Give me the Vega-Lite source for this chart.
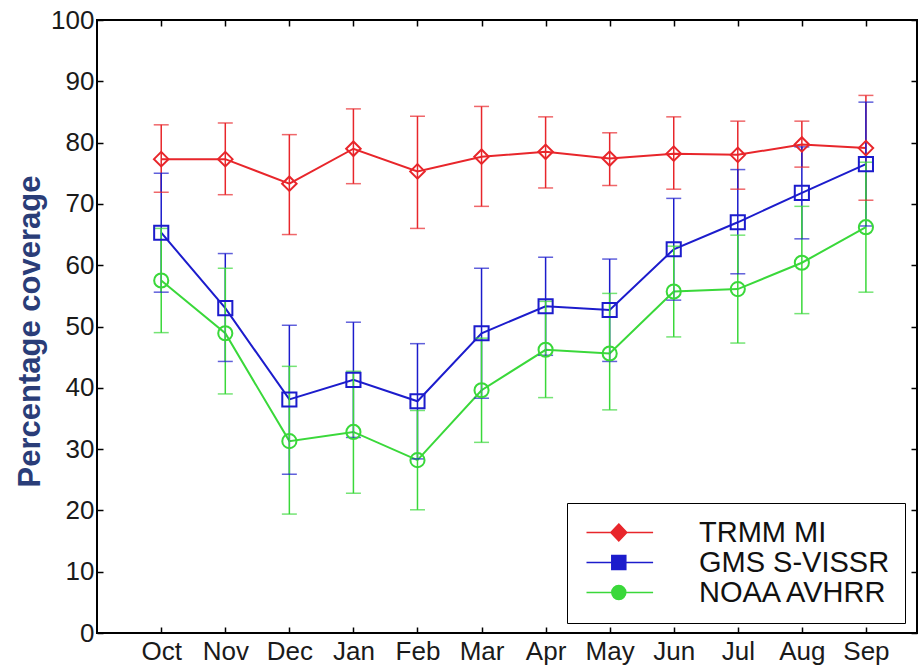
{
  "$schema": "https://vega.github.io/schema/vega-lite/v6.json",
  "autosize": {"type": "none"},
  "padding": {"left": 97, "top": 20, "right": 7, "bottom": 38},
  "width": 820,
  "height": 613,
  "background": "white",
  "config": {
    "view": {"stroke": "black", "strokeWidth": 2},
    "font": "Liberation Sans",
    "axis": {
      "grid": false,
      "domain": false,
      "tickColor": "black",
      "tickWidth": 1.5,
      "tickSize": -6,
      "labelFont": "Liberation Sans",
      "labelFontSize": 26,
      "labelColor": "#1a1a1a"
    },
    "legend": {
      "orient": "none",
      "legendX": 470,
      "legendY": 483,
      "strokeColor": "black",
      "fillColor": "white",
      "padding": 15,
      "labelFont": "Liberation Sans",
      "labelFontSize": 29,
      "labelColor": "#111111",
      "labelLimit": 400,
      "labelOffset": 88,
      "symbolSize": 400,
      "symbolOpacity": 1,
      "symbolStrokeWidth": 1.5,
      "rowPadding": 0
    }
  },
  "data": {
    "values": [
      {"month": "Oct", "series": "TRMM MI", "mean": 77.3, "lo": 71.9, "hi": 82.9},
      {"month": "Nov", "series": "TRMM MI", "mean": 77.3, "lo": 71.5, "hi": 83.2},
      {"month": "Dec", "series": "TRMM MI", "mean": 73.3, "lo": 65.0, "hi": 81.3},
      {"month": "Jan", "series": "TRMM MI", "mean": 79.0, "lo": 73.3, "hi": 85.5},
      {"month": "Feb", "series": "TRMM MI", "mean": 75.3, "lo": 66.0, "hi": 84.3},
      {"month": "Mar", "series": "TRMM MI", "mean": 77.7, "lo": 69.6, "hi": 85.9},
      {"month": "Apr", "series": "TRMM MI", "mean": 78.5, "lo": 72.6, "hi": 84.2},
      {"month": "May", "series": "TRMM MI", "mean": 77.4, "lo": 73.0, "hi": 81.6},
      {"month": "Jun", "series": "TRMM MI", "mean": 78.2, "lo": 72.4, "hi": 84.2},
      {"month": "Jul", "series": "TRMM MI", "mean": 78.0, "lo": 72.4, "hi": 83.5},
      {"month": "Aug", "series": "TRMM MI", "mean": 79.7, "lo": 76.0, "hi": 83.5},
      {"month": "Sep", "series": "TRMM MI", "mean": 79.1, "lo": 70.6, "hi": 87.7},
      {"month": "Oct", "series": "GMS S-VISSR", "mean": 65.3, "lo": 55.6, "hi": 75.0},
      {"month": "Nov", "series": "GMS S-VISSR", "mean": 53.0, "lo": 44.3, "hi": 61.9},
      {"month": "Dec", "series": "GMS S-VISSR", "mean": 38.1, "lo": 25.9, "hi": 50.2},
      {"month": "Jan", "series": "GMS S-VISSR", "mean": 41.3, "lo": 31.9, "hi": 50.7},
      {"month": "Feb", "series": "GMS S-VISSR", "mean": 37.8, "lo": 28.4, "hi": 47.2},
      {"month": "Mar", "series": "GMS S-VISSR", "mean": 48.9, "lo": 38.3, "hi": 59.5},
      {"month": "Apr", "series": "GMS S-VISSR", "mean": 53.3, "lo": 45.3, "hi": 61.3},
      {"month": "May", "series": "GMS S-VISSR", "mean": 52.7, "lo": 44.3, "hi": 61.0},
      {"month": "Jun", "series": "GMS S-VISSR", "mean": 62.6, "lo": 54.3, "hi": 70.9},
      {"month": "Jul", "series": "GMS S-VISSR", "mean": 67.0, "lo": 58.6, "hi": 75.6},
      {"month": "Aug", "series": "GMS S-VISSR", "mean": 71.8, "lo": 64.3, "hi": 79.3},
      {"month": "Sep", "series": "GMS S-VISSR", "mean": 76.5, "lo": 66.4, "hi": 86.6},
      {"month": "Oct", "series": "NOAA AVHRR", "mean": 57.5, "lo": 49.0, "hi": 66.0},
      {"month": "Nov", "series": "NOAA AVHRR", "mean": 48.9, "lo": 39.0, "hi": 59.5},
      {"month": "Dec", "series": "NOAA AVHRR", "mean": 31.3, "lo": 19.4, "hi": 43.5},
      {"month": "Jan", "series": "NOAA AVHRR", "mean": 32.8, "lo": 22.8, "hi": 42.7},
      {"month": "Feb", "series": "NOAA AVHRR", "mean": 28.2, "lo": 20.1, "hi": 36.3},
      {"month": "Mar", "series": "NOAA AVHRR", "mean": 39.6, "lo": 31.1, "hi": 48.1},
      {"month": "Apr", "series": "NOAA AVHRR", "mean": 46.2, "lo": 38.4, "hi": 54.1},
      {"month": "May", "series": "NOAA AVHRR", "mean": 45.6, "lo": 36.4, "hi": 55.4},
      {"month": "Jun", "series": "NOAA AVHRR", "mean": 55.7, "lo": 48.3, "hi": 63.1},
      {"month": "Jul", "series": "NOAA AVHRR", "mean": 56.1, "lo": 47.3, "hi": 64.9},
      {"month": "Aug", "series": "NOAA AVHRR", "mean": 60.4, "lo": 52.1, "hi": 69.6},
      {"month": "Sep", "series": "NOAA AVHRR", "mean": 66.2, "lo": 55.6, "hi": 76.8}
    ]
  },
  "resolve": {"axis": {"x": "independent", "y": "independent"}},
  "layer": [
    {
      "mark": {"type": "point", "filled": false, "opacity": 0},
      "encoding": {
        "x": {"field": "month", "type": "ordinal", "sort": null, "axis": null},
        "y": {"field": "mean", "type": "quantitative", "axis": null},
        "color": {"field": "series", "type": "nominal", "legend": {"title": null}},
        "shape": {
          "field": "series", "type": "nominal",
          "scale": {
            "domain": ["TRMM MI", "GMS S-VISSR", "NOAA AVHRR"],
            "range": [
              "M-1,0H1.43M3.03,0H5.66M2.23,-0.85L3.03,0L2.23,0.85L1.43,0Z",
              "M-1,0H1.53M2.93,0H5.66M1.53,-0.7H2.93V0.7H1.53Z",
              "M-1,0H1.53M2.93,0H5.66M1.53,0A0.7,0.7 0 1,0 2.93,0A0.7,0.7 0 1,0 1.53,0Z"
            ]
          },
          "legend": {"title": null}
        }
      }
    },
    {
      "mark": {"type": "line", "strokeWidth": 2},
      "encoding": {
        "x": {
          "field": "month", "type": "ordinal", "sort": null,
          "scale": {"type": "point", "padding": 0.9, "align": 0.557},
          "axis": {"orient": "bottom", "title": null, "labelAngle": 0, "labelPadding": 11}
        },
        "y": {
          "field": "mean", "type": "quantitative",
          "scale": {"domain": [0, 100], "nice": false},
          "axis": {
            "orient": "left",
            "values": [0, 10, 20, 30, 40, 50, 60, 70, 80, 90, 100],
            "labelPadding": 9,
            "title": "Percentage coverage",
            "titleFont": "Liberation Sans",
            "titleFontSize": 31,
            "titleFontWeight": "bold",
            "titleColor": "#2a3d78",
            "titleAngle": -90,
            "titleAlign": "center",
            "titleBaseline": "middle",
            "titleX": -67,
            "titleY": 311
          }
        },
        "color": {
          "field": "series", "type": "nominal",
          "scale": {"domain": ["TRMM MI", "GMS S-VISSR", "NOAA AVHRR"], "range": ["#e8262b", "#1c1ccc", "#3ad83a"]},
          "legend": null
        }
      }
    },
    {
      "mark": {"type": "rule", "strokeWidth": 1.5},
      "encoding": {
        "x": {"field": "month", "type": "ordinal", "sort": null, "axis": null},
        "y": {"field": "lo", "type": "quantitative", "axis": null},
        "y2": {"field": "hi"},
        "color": {"field": "series", "type": "nominal", "legend": null}
      }
    },
    {
      "mark": {"type": "tick", "size": 15, "thickness": 1.5},
      "encoding": {
        "x": {"field": "month", "type": "ordinal", "sort": null, "axis": null},
        "y": {"field": "lo", "type": "quantitative", "axis": null},
        "color": {"field": "series", "type": "nominal", "legend": null}
      }
    },
    {
      "mark": {"type": "tick", "size": 15, "thickness": 1.5},
      "encoding": {
        "x": {"field": "month", "type": "ordinal", "sort": null, "axis": null},
        "y": {"field": "hi", "type": "quantitative", "axis": null},
        "color": {"field": "series", "type": "nominal", "legend": null}
      }
    },
    {
      "transform": [{"filter": "datum.series === 'TRMM MI'"}],
      "mark": {"type": "point", "shape": "diamond", "filled": false, "strokeWidth": 2, "size": 210, "opacity": 1},
      "encoding": {
        "x": {"field": "month", "type": "ordinal", "sort": null, "axis": {"orient": "top", "labels": false, "title": null}},
        "y": {"field": "mean", "type": "quantitative", "axis": {"orient": "right", "labels": false, "title": null, "values": [0, 10, 20, 30, 40, 50, 60, 70, 80, 90, 100]}},
        "color": {"field": "series", "type": "nominal", "legend": null}
      }
    },
    {
      "transform": [{"filter": "datum.series === 'GMS S-VISSR'"}],
      "mark": {"type": "point", "shape": "square", "filled": false, "strokeWidth": 2, "size": 200, "opacity": 1},
      "encoding": {
        "x": {"field": "month", "type": "ordinal", "sort": null, "axis": null},
        "y": {"field": "mean", "type": "quantitative", "axis": null},
        "color": {"field": "series", "type": "nominal", "legend": null}
      }
    },
    {
      "transform": [{"filter": "datum.series === 'NOAA AVHRR'"}],
      "mark": {"type": "point", "shape": "circle", "filled": false, "strokeWidth": 2, "size": 200, "opacity": 1},
      "encoding": {
        "x": {"field": "month", "type": "ordinal", "sort": null, "axis": null},
        "y": {"field": "mean", "type": "quantitative", "axis": null},
        "color": {"field": "series", "type": "nominal", "legend": null}
      }
    }
  ]
}
